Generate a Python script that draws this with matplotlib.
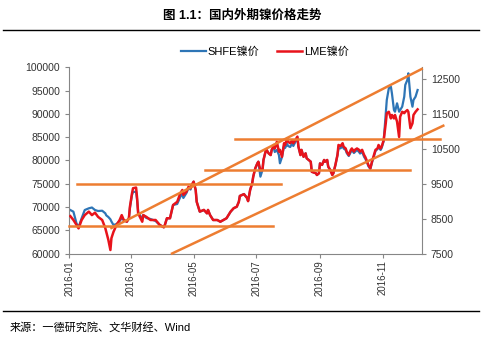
import matplotlib
matplotlib.use("Agg")
import matplotlib.pyplot as plt
import matplotlib.dates as mdates
from matplotlib.lines import Line2D
import pandas as pd

plt.rcParams['font.family'] = ['Liberation Sans', 'Noto Sans CJK SC']

# 日期 (2016)
dates = [
    "01-02", "01-05", "01-08", "01-10", "01-13", "01-16", "01-20", "01-23", "01-26", "01-29",
    "02-02", "02-05", "02-06", "02-08", "02-10", "02-11", "02-13", "02-16", "02-19", "02-21",
    "02-23", "02-26", "02-28", "02-29", "03-02", "03-03", "03-06", "03-07", "03-08", "03-12",
    "03-13", "03-16", "03-20", "03-25", "03-29", "04-02", "04-03", "04-05", "04-08", "04-11",
    "04-15", "04-18", "04-20", "04-21", "04-24", "04-26", "04-28", "04-29", "05-01", "05-03",
    "05-04", "05-06", "05-07", "05-11", "05-14", "05-15", "05-17", "05-20", "05-24", "05-27",
    "05-30", "06-02", "06-06", "06-09", "06-12", "06-14", "06-15", "06-19", "06-22", "06-23",
    "06-25", "06-27", "06-28", "06-30", "07-02", "07-03", "07-05", "07-07", "07-08", "07-10",
    "07-11", "07-13", "07-15", "07-16", "07-18", "07-19", "07-21", "07-23", "07-24", "07-26",
    "07-28", "07-29", "07-31", "08-01", "08-03", "08-05", "08-06", "08-08", "08-10", "08-11",
    "08-13", "08-14", "08-16", "08-18", "08-19", "08-23", "08-24", "08-28", "08-29", "08-31",
    "09-01", "09-03", "09-05", "09-06", "09-08", "09-09", "09-11", "09-13", "09-14", "09-16",
    "09-18", "09-19", "09-21", "09-23", "09-24", "09-26", "09-27", "09-29", "10-01", "10-02",
    "10-04", "10-05", "10-07", "10-09", "10-10", "10-12", "10-14", "10-15", "10-17", "10-18",
    "10-20", "10-22", "10-23", "10-25", "10-27", "10-28", "10-30", "10-31", "11-02", "11-04",
    "11-05", "11-07", "11-09", "11-10", "11-12", "11-13", "11-15", "11-17", "11-18", "11-20",
    "11-22", "11-23", "11-25", "11-26", "11-28", "11-30", "12-01", "12-03", "12-05"]

# SHFE镍价 (左轴)
shfe = [
    69350, 68990, 66490, 65630, 67570, 69350, 69720, 69890, 69350, 69140,
    69200, 68650, 68200, 67850, 67350, 66880, 66130, 66340, 66990, 67570,
    67200, 66840, 67630, 69780, 72580, 73230, 73290, 71500, 68920, 67420,
    68280, 67630, 67420, 66990, 66130, 65630, 66130, 67570, 67570, 70430,
    70650, 72150, 72800, 71940, 73010, 74090, 73760, 74520, 75440, 73660,
    71140, 69720, 68990, 69350, 68650, 69350, 68280, 67200, 67200, 66840,
    67200, 67570, 68990, 69720, 70060, 71140, 72370, 72800, 71940, 71290,
    73660, 75100, 76520, 78320, 79400, 79740, 76520, 77960, 80110, 81890,
    82260, 81550, 81180, 82260, 82690, 81830, 82260, 81180, 79400, 80750,
    83120, 82690, 83550, 83120, 82900, 83760, 83120, 83980, 84950, 82970,
    81180, 82260, 80820, 81550, 80470, 79740, 77590, 77250, 76880, 77250,
    79400, 79030, 80110, 79740, 80110, 78670, 77960, 76880, 77250, 79030,
    81180, 82620, 82620, 83120, 82580, 82260, 81610, 80970, 81830, 82260,
    81610, 81830, 82260, 81830, 81500, 81830, 80750, 80430, 79460, 78820,
    78170, 79890, 80540, 82040, 82470, 83120, 82260, 82690, 84190, 90150,
    93010, 95530, 95870, 94450, 90860, 90490, 92300, 90490, 90860, 91570,
    93720, 96240, 97310, 98750, 93720, 91570, 93010, 93720, 95160]

# LME镍价 (右轴)
lme = [
    8570, 8460, 8320, 8220, 8460, 8600, 8700, 8600, 8670, 8550,
    8460, 8230, 8120, 7890, 7600, 7940, 8120, 8320, 8460, 8600,
    8460, 8410, 8510, 8840, 9220, 9370, 9390, 9080, 8650, 8410,
    8600, 8550, 8460, 8460, 8320, 8250, 8320, 8510, 8510, 8890,
    8980, 9220, 9320, 9180, 9270, 9410, 9370, 9460, 9560, 9320,
    8980, 8800, 8700, 8750, 8650, 8750, 8600, 8460, 8460, 8410,
    8460, 8510, 8700, 8800, 8840, 8980, 9150, 9200, 9090, 9000,
    9320, 9510, 9700, 9940, 10080, 10130, 9890, 9890, 10180, 10420,
    10470, 10370, 10320, 10470, 10610, 10510, 10700, 10420, 10470, 10270,
    10660, 10610, 10800, 10700, 10660, 10750, 10660, 10750, 10850, 10560,
    10320, 10470, 10270, 10370, 10230, 10130, 9840, 9800, 9750, 9800,
    10080, 10040, 10180, 10130, 10180, 9990, 9890, 9750, 9800, 10040,
    10320, 10610, 10580, 10660, 10560, 10510, 10420, 10320, 10470, 10510,
    10420, 10470, 10510, 10470, 10420, 10470, 10320, 10270, 10130, 10040,
    9940, 10180, 10270, 10470, 10510, 10610, 10510, 10560, 10750, 11230,
    11520, 11560, 11370, 11470, 11370, 11470, 11280, 10840, 11420, 11560,
    11520, 11560, 11610, 11560, 11090, 11230, 11470, 11560, 11630]

# 支撑/压力线 (左轴数值): 起点日期, 终点日期, 起点值, 终点值
trend_lines = [
    ("2016-01-08", "2016-07-25", 74900, 74900),
    ("2016-01-01", "2016-07-17", 65900, 65900),
    ("2016-05-12", "2016-11-28", 78000, 78000),
    ("2016-06-10", "2016-12-27", 84600, 84600),
    ("2016-02-11", "2016-12-09", 65480, 99680),
    ("2016-04-10", "2016-12-30", 60000, 87480),
]

x = pd.to_datetime(["2016-" + d for d in dates])

fig = plt.figure(figsize=(4.84, 3.40), dpi=100)
ax = fig.add_axes([0.1432, 0.2544, 0.7281, 0.5471])
ax2 = ax.twinx()

l1, = ax.plot(x, shfe, color='#2E75B6', lw=1.6)
l2, = ax2.plot(x, lme, color='#E8131B', lw=1.8)

for d0, d1, v0, v1 in trend_lines:
    ax2.plot(pd.to_datetime([d0, d1]), [v0, v1], color='#ED7D31', lw=1.8,
             transform=ax.transData, clip_on=False, zorder=5)

ax.set_xlim(pd.Timestamp("2016-01-01"), pd.Timestamp("2016-12-09"))
ax.set_ylim(60000, 100000)
ax.set_yticks(range(60000, 100001, 5000))
ax2.set_ylim(7500, 12830)
ax2.set_yticks(range(7500, 12501, 1000))

ax.xaxis.set_major_locator(mdates.MonthLocator(bymonth=[1, 3, 5, 7, 9, 11]))
ax.xaxis.set_major_formatter(mdates.DateFormatter('%Y-%m'))
for lab in ax.get_xticklabels():
    lab.set_rotation(90)

gray = '#868686'
for a in (ax, ax2):
    a.spines['top'].set_visible(False)
    a.tick_params(direction='out', length=3, color=gray, labelsize=7.5,
                  labelcolor='#333333', width=0.8)
ax.spines['right'].set_visible(False)
ax.spines['left'].set_color(gray)
ax.spines['bottom'].set_color(gray)
ax2.spines['left'].set_visible(False)
ax2.spines['bottom'].set_visible(False)
ax2.spines['right'].set_color(gray)
ax.tick_params(axis='x', labelsize=7, pad=2)

fig.legend([l1, l2], ['SHFE镍价', 'LME镍价'], loc='center',
           bbox_to_anchor=(265 / 484, 1 - 52 / 340), ncol=2, frameon=False,
           fontsize=8, handlelength=2.2, columnspacing=1.6, handletextpad=0.2)

fig.text(0.5, 1 - 16 / 340, '图 1.1：国内外期镍价格走势', ha='center', va='center',
         fontsize=9, fontweight='bold')
fig.add_artist(Line2D([3 / 484, 479 / 484], [1 - 30 / 340] * 2, color='black', lw=1))
fig.add_artist(Line2D([3 / 484, 479 / 484], [1 - 311 / 340] * 2, color='black', lw=1))
fig.text(10 / 484, 1 - 327 / 340, '来源：一德研究院、文华财经、Wind', ha='left', va='center',
         fontsize=8)

fig.savefig('out.png', dpi=100)
